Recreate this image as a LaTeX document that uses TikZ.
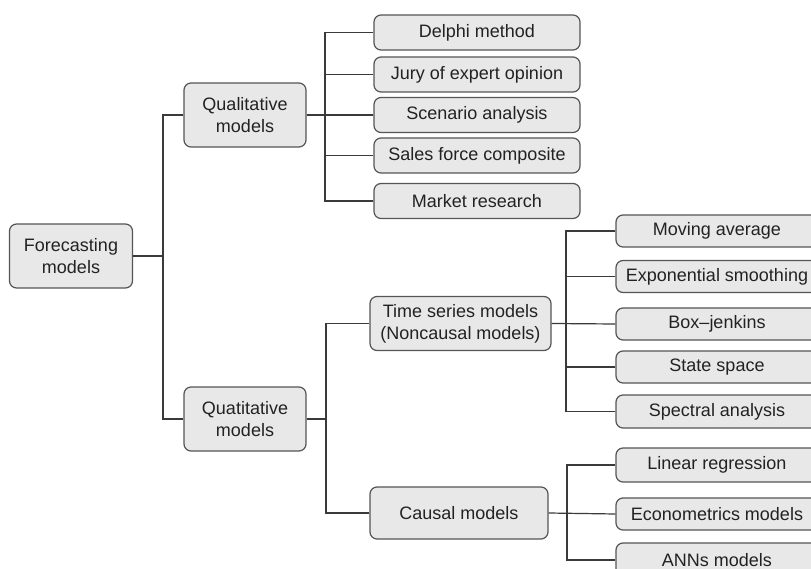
\documentclass[tikz,border=0pt]{standalone}
\usepackage{fontspec}
\setmainfont{Liberation Sans}
\definecolor{boxfill}{HTML}{E8E8E8}
\definecolor{boxline}{HTML}{555555}
\definecolor{linkc}{HTML}{3A3A3A}
\definecolor{txt}{HTML}{222222}
\begin{document}
\begin{tikzpicture}[x=1pt,y=-1pt,
  box/.style={draw=boxline, line width=1.2pt, fill=boxfill, rounded corners=7pt,
    inner sep=0pt, align=center, text=txt, font=\fontsize{18}{22}\selectfont},
  link/.style={draw=linkc, line width=1.2pt}]
\useasboundingbox (0,0) rectangle (811,569);
\clip (0,0) rectangle (811,569);
% level 0
\node[box, minimum width=123pt, minimum height=64pt] (fm) at (71,256) {Forecasting\\models};
% level 1
\node[box, minimum width=122pt, minimum height=64pt] (qual) at (245,115) {Qualitative\\models};
\node[box, minimum width=122pt, minimum height=64pt] (quan) at (245,419) {Quatitative\\models};
% qualitative leaves
\node[box, minimum width=206pt, minimum height=35pt] (delphi) at (477,32.5) {Delphi method};
\node[box, minimum width=206pt, minimum height=35pt] (jury) at (477,74.5) {Jury of expert opinion};
\node[box, minimum width=206pt, minimum height=35pt] (scen) at (477,115) {Scenario analysis};
\node[box, minimum width=206pt, minimum height=35pt] (sales) at (477,155.5) {Sales force composite};
\node[box, minimum width=206pt, minimum height=35pt] (market) at (477,201) {Market research};
% quantitative level 2
\node[box, minimum width=181pt, minimum height=54pt] (ts) at (460.5,323.5) {Time series models\\(Noncausal models)};
\node[box, minimum width=178pt, minimum height=52pt] (causal) at (459,513) {Causal models};
% time series leaves
\node[box, minimum width=202pt, minimum height=32pt] (ma) at (717,231) {Moving average};
\node[box, minimum width=202pt, minimum height=32pt] (es) at (717,276.5) {Exponential smoothing};
\node[box, minimum width=202pt, minimum height=32pt] (bj) at (717,324) {Box--jenkins};
\node[box, minimum width=202pt, minimum height=32pt] (ss) at (717,367) {State space};
\node[box, minimum width=202pt, minimum height=33pt] (sa) at (717,411.5) {Spectral analysis};
% causal leaves
\node[box, minimum width=202pt, minimum height=34pt] (lr) at (717,465) {Linear regression};
\node[box, minimum width=202pt, minimum height=32pt] (em) at (717,514) {Econometrics models};
\node[box, minimum width=202pt, minimum height=34pt] (ann) at (717,560) {ANNs models};
% junctions
\coordinate (t0) at (163,256);
\coordinate (t1) at (325,115);
\coordinate (t2) at (326,419);
\coordinate (t3) at (566,323.5);
\coordinate (t4) at (567,513);
% connectors
\draw[link] (fm.east) -- (t0);
\draw[link] (qual.west) -| (t0) |- (quan.west);
\draw[link] (qual.east) -- (scen.west);
\draw[link] (delphi.west) -| (t1) |- (market.west);
\draw[link] (jury.west) -| (t1);
\draw[link] (sales.west) -| (t1);
\draw[link] (quan.east) -- (t2);
\draw[link] (ts.west) -| (t2) |- (causal.west);
\draw[link] (ts.east) -- (bj.west);
\draw[link] (ma.west) -| (t3) |- (sa.west);
\draw[link] (es.west) -| (t3);
\draw[link] (ss.west) -| (t3);
\draw[link] (causal.east) -- (em.west);
\draw[link] (lr.west) -| (t4) |- (ann.west);
\end{tikzpicture}
\end{document}
